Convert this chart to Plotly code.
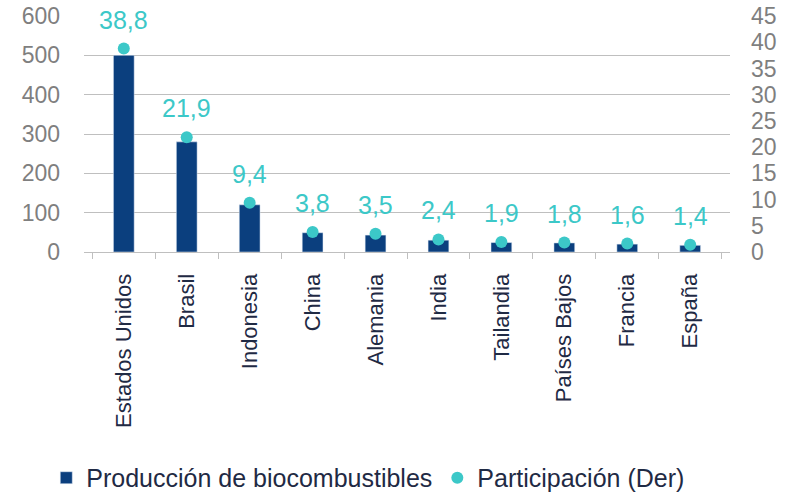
import plotly.graph_objects as go

paises = ["Estados Unidos", "Brasil", "Indonesia", "China", "Alemania",
          "India", "Tailandia", "Países Bajos", "Francia", "España"]
produccion = [500, 280, 120, 49, 43, 30, 24, 23, 20, 17]
participacion = [38.8, 21.9, 9.4, 3.8, 3.5, 2.4, 1.9, 1.8, 1.6, 1.4]
etiquetas = [f"{v:.1f}".replace(".", ",") for v in participacion]

fig = go.Figure()

fig.add_trace(go.Bar(
    x=paises,
    y=produccion,
    name="Producción de biocombustibles",
    marker=dict(color="#0B3F7E"),
    width=0.33,
))

fig.add_trace(go.Scatter(
    x=paises,
    y=participacion,
    yaxis="y2",
    mode="markers",
    name="Participación (Der)",
    marker=dict(color="#3CC8C8", size=12),
))

# value labels above the markers
for p, v, t in zip(paises, participacion, etiquetas):
    fig.add_annotation(
        x=p, y=v, yref="y2", text=t, showarrow=False,
        yshift=29, font=dict(size=25, color="#3CC8C8"),
    )

fig.update_layout(
    width=792,
    height=492,
    paper_bgcolor="white",
    plot_bgcolor="white",
    font=dict(family="Liberation Sans, Arial, sans-serif", size=18, color="#7F7F7F"),
    margin=dict(l=84, r=62, t=16, b=240, autoexpand=False),
    showlegend=True,
    legend=dict(
        orientation="h", xref="container", yref="container",
        x=0.465, xanchor="center", y=0.0285, yanchor="middle",
        font=dict(size=25, color="#1F2A44"), itemwidth=30,
    ),
    xaxis=dict(
        tickangle=-90, automargin=False,
        tickfont=dict(size=22, color="#1F2A44"),
        showline=True, linecolor="#BFBFBF", linewidth=1,
        ticks="outside", tickson="boundaries", ticklen=6, tickcolor="#BFBFBF",
        ticklabelstandoff=12,
        showgrid=False,
    ),
    yaxis=dict(
        range=[0, 600], dtick=100, automargin=False,
        showgrid=True, gridcolor="#BFBFBF", gridwidth=1,
        zeroline=False, ticks="", ticklabelstandoff=23,
        tickfont=dict(size=23, color="#7F7F7F"),
    ),
    yaxis2=dict(
        range=[0, 45], dtick=5, overlaying="y", side="right", automargin=False,
        showgrid=False, zeroline=False, ticks="", ticklabelstandoff=20,
        tickfont=dict(size=23, color="#7F7F7F"),
    ),
)

# the page body has a default 8px margin; drop it so the figure fills the window
fig.write_html(
    "out.html",
    config={"displayModeBar": False},
    post_script="document.body.style.margin='0';",
)
